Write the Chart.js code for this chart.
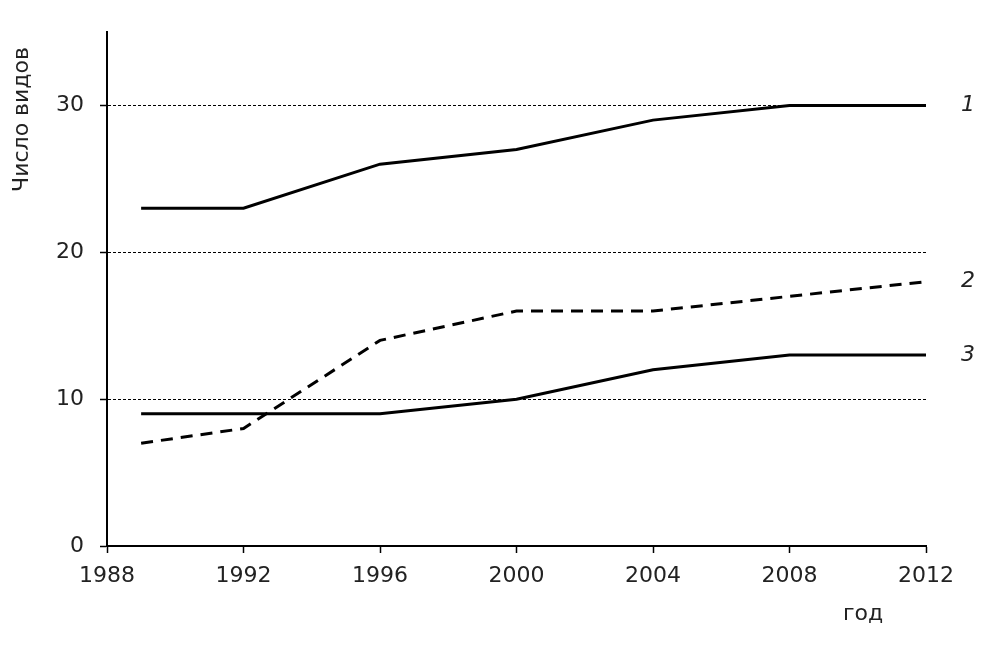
<!DOCTYPE html>
<html><head><meta charset="utf-8">
<script src="https://cdn.jsdelivr.net/npm/chart.js@4.4.0/dist/chart.umd.min.js"></script>
<style>html,body{margin:0;padding:0;background:#fff;overflow:hidden;}</style>
</head><body>
<canvas id="c" width="999" height="648"></canvas>
<script>
const years = [1989, 1992, 1996, 2000, 2004, 2008, 2012];
const series1 = [23, 23, 26, 27, 29, 30, 30];
const series2 = [7, 8, 14, 16, 16, 17, 18];
const series3 = [9, 9, 9, 10, 12, 13, 13];
const seriesLabels = ['1', '2', '3'];
const xTicks = [1988, 1992, 1996, 2000, 2004, 2008, 2012];
const yTicks = [0, 10, 20, 30];
const yTitle = 'Число видов';
const xTitle = 'год';

const FONT = 'DejaVu Sans, Verdana, sans-serif';
const TXT = '#222';

function pts(arr) { return years.map((y, i) => ({x: y, y: arr[i]})); }

const labelsPlugin = {
  id: 'labelsPlugin',
  afterDraw(chart) {
    const ctx = chart.ctx;
    const ys = chart.scales.y;
    ctx.save();
    ctx.fillStyle = TXT;
    ctx.font = 'italic 22px ' + FONT;
    ctx.textAlign = 'center';
    ctx.textBaseline = 'middle';
    chart.data.datasets.forEach((ds, i) => {
      const last = ds.data[ds.data.length - 1];
      ctx.fillText(seriesLabels[i], 968, ys.getPixelForValue(last.y));
    });
    ctx.font = '22px ' + FONT;
    ctx.fillText(xTitle, 863, 614);
    ctx.translate(22, 47);
    ctx.rotate(-Math.PI / 2);
    ctx.textAlign = 'right';
    ctx.font = '22px ' + FONT;
    ctx.fillText(yTitle, 0, 0);
    ctx.restore();
  }
};

new Chart(document.getElementById('c'), {
  type: 'line',
  data: {
    datasets: [
      {data: pts(series1), borderColor: '#000', borderWidth: 3, pointRadius: 0, tension: 0, fill: false},
      {data: pts(series2), borderColor: '#000', borderWidth: 3, borderDash: [12, 8], pointRadius: 0, tension: 0, fill: false},
      {data: pts(series3), borderColor: '#000', borderWidth: 3, pointRadius: 0, tension: 0, fill: false}
    ]
  },
  options: {
    responsive: false,
    animation: false,
    devicePixelRatio: 1,
    layout: {padding: {top: 32, right: 73, left: 0, bottom: 0}},
    plugins: {legend: {display: false}, tooltip: {enabled: false}},
    scales: {
      x: {
        type: 'linear', min: 1988, max: 2012,
        afterBuildTicks(s) { s.ticks = xTicks.map(v => ({value: v})); },
        afterFit(s) { s.height = 102; },
        grid: {drawOnChartArea: false, drawTicks: true, tickLength: 7, tickColor: '#000', tickWidth: 1.5},
        border: {display: true, color: '#000', width: 2},
        ticks: {color: TXT, font: {family: FONT, size: 22}, padding: 10, maxRotation: 0, autoSkip: false,
                callback: v => String(v)}
      },
      y: {
        min: 0, max: 35,
        afterBuildTicks(s) { s.ticks = yTicks.map(v => ({value: v})); },
        afterFit(s) { s.width = 107; },
        grid: {
          drawOnChartArea: true, drawTicks: true, tickLength: 7,
          color: ctx => (ctx.tick && ctx.tick.value === 0) ? 'rgba(0,0,0,0)' : '#000',
          lineWidth: 1, tickColor: '#000', tickWidth: 1.5, tickBorderDash: []
        },
        border: {display: true, color: '#000', width: 2, dash: [3, 2]},
        ticks: {color: TXT, font: {family: FONT, size: 22}, padding: 16, callback: v => String(v)}
      }
    }
  },
  plugins: [labelsPlugin]
});
</script>
</body></html>
